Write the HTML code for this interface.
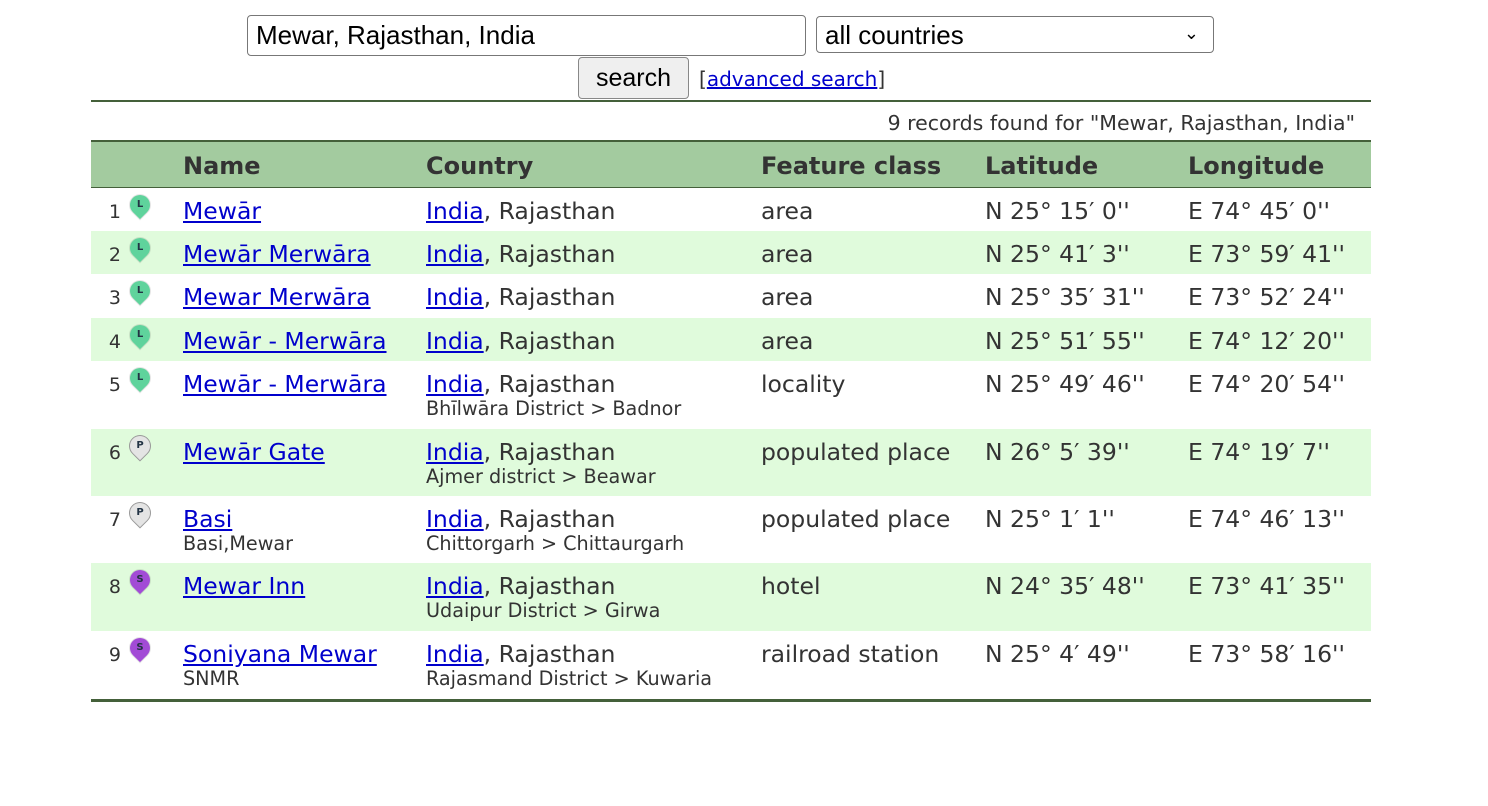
<!DOCTYPE html>
<html><head><meta charset="utf-8"><style>
body{margin:0;width:1488px;height:806px;background:#fff;position:relative;font-family:"DejaVu Sans",Verdana,sans-serif;color:#333;overflow:hidden}
.a{position:absolute;white-space:nowrap}
.t{font-size:23.5px;line-height:28px}
.s{font-size:19.2px;line-height:22px}
a{color:#00c;text-decoration:underline}
.row{position:absolute;left:91px;width:1280px}
.ic{position:absolute;width:20px;height:20px;border-radius:50% 50% 50% 0;transform:rotate(-45deg);}
.ic span{display:block;transform:rotate(45deg);font:bold 10px "DejaVu Sans",sans-serif;text-align:center;line-height:20px;color:#234}
.num{position:absolute;width:30px;text-align:right;font-size:19px;left:0px}
</style></head><body>
<div class="a" style="left:247px;top:15px;border:1px solid #777;border-radius:4px;font-family:'Liberation Sans',sans-serif;font-size:26px;line-height:39px;color:#000;padding-left:8px;box-sizing:border-box;width:559px;height:41px">Mewar, Rajasthan, India</div>
<div class="a" style="left:816px;top:16px;width:398px;height:37px;border:1px solid #777;border-radius:4px;box-sizing:border-box;font-family:'Liberation Sans',sans-serif;font-size:26px;line-height:36px;color:#000;padding-left:8px">all countries<span style="position:absolute;right:14px;top:-2px;font-size:18px">&#8964;</span></div>
<div class="a" style="left:578px;top:57px;width:111px;height:42px;border:1px solid #888;border-radius:4px;box-sizing:border-box;background:#efefef;font-family:'Liberation Sans',sans-serif;font-size:25px;line-height:40px;text-align:center;color:#000">search</div>
<div class="a" style="left:699px;top:67px;font-size:20px;line-height:24px">[<a>advanced search</a>]</div>
<div class="a" style="left:91px;top:100px;width:1280px;height:2px;background:#44603a"></div>
<div class="a" style="right:133px;top:111px;font-size:20.5px;line-height:24px">9 records found for "Mewar, Rajasthan, India"</div>
<div class="a" style="left:91px;top:140px;width:1280px;height:45px;background:#a3cb9f;border-top:2px solid #44603a;border-bottom:2px solid #44603a;font-weight:bold;font-size:24px;line-height:48px">
<span class="a" style="left:92px">Name</span>
<span class="a" style="left:335px">Country</span>
<span class="a" style="left:670px">Feature class</span>
<span class="a" style="left:894px">Latitude</span>
<span class="a" style="left:1097px">Longitude</span>
</div>
<div id="rows"></div>
<div class="a" style="left:91px;top:699px;width:1280px;height:3px;background:#44603a"></div>
<script>
const names=["Mewār","Mewār Merwāra","Mewar Merwāra","Mewār - Merwāra","Mewār - Merwāra","Mewār Gate","Basi","Mewar Inn","Soniyana Mewar"];
const alts=["","","","","","","Basi,Mewar","","SNMR"];
const admin=["","","","","Bhīlwāra District > Badnor","Ajmer district > Beawar","Chittorgarh > Chittaurgarh","Udaipur District > Girwa","Rajasmand District > Kuwaria"];
const fclass=["area","area","area","area","locality","populated place","populated place","hotel","railroad station"];
const lats=["N 25° 15′ 0''","N 25° 41′ 3''","N 25° 35′ 31''","N 25° 51′ 55''","N 25° 49′ 46''","N 26° 5′ 39''","N 25° 1′ 1''","N 24° 35′ 48''","N 25° 4′ 49''"];
const lons=["E 74° 45′ 0''","E 73° 59′ 41''","E 73° 52′ 24''","E 74° 12′ 20''","E 74° 20′ 54''","E 74° 19′ 7''","E 74° 46′ 13''","E 73° 41′ 35''","E 73° 58′ 16''"];
const icons=["L","L","L","L","L","P","P","S","S"];
const tops=[188,231,274,318,361,429,496,563,631,699];
const iconCol={L:"#5fd39c",P:"#e4e4e4",S:"#a24bd6"};
const host=document.getElementById('rows');
names.forEach((n,i)=>{
 const r=document.createElement('div');
 
 
 r.className='row';
 r.style.top=tops[i]+'px';r.style.height=(tops[i+1]-tops[i])+'px';
 r.style.background=i%2?'#e0fbdc':'#fff';
 const sub=(x,s)=>s?`<div class="a s" style="left:${x}px;top:37px">${s}</div>`:'';
 r.innerHTML=`<span class="num a t" style="top:10px;left:0">${i+1}</span>`+
 `<div class="ic" style="left:39px;top:7px;background:${iconCol[icons[i]]};box-shadow:0 0 0 1px ${icons[i]=='P'?'#999':'rgba(0,0,0,0.1)'}"><span>${icons[i]}</span></div>`+
 `<div class="a t" style="left:92px;top:9px"><a>${n}</a></div>`+sub(92,alts[i])+
 `<div class="a t" style="left:335px;top:9px"><a>India</a>, Rajasthan</div>`+sub(335,admin[i])+
 `<div class="a t" style="left:670px;top:9px">${fclass[i]}</div>`+
 `<div class="a t" style="left:894px;top:9px">${lats[i]}</div>`+
 `<div class="a t" style="left:1097px;top:9px">${lons[i]}</div>`;
 host.appendChild(r);
});
</script>
</body></html>
